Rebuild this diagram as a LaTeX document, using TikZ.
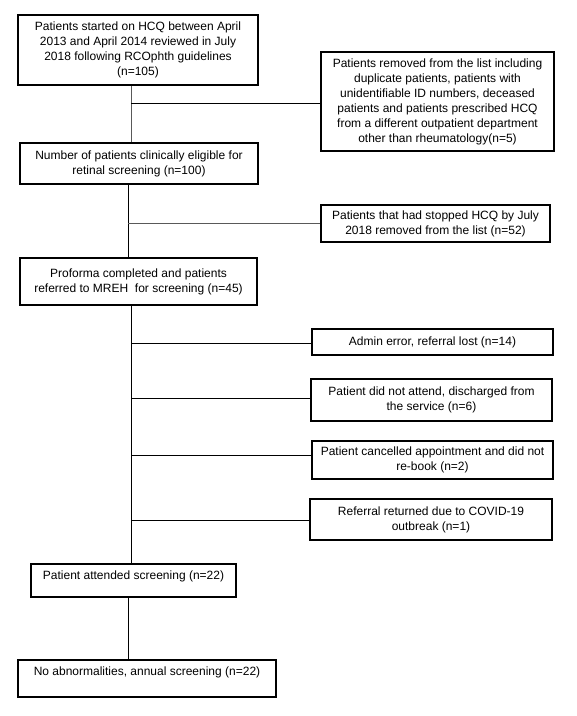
\documentclass[tikz,border=0pt]{standalone}
\usepackage{fontspec}
\setmainfont{Liberation Sans}
\begin{document}
\begin{tikzpicture}[x=1pt,y=-1pt,
  box/.style={draw, line width=2.6pt, align=center, inner sep=0pt,
    font=\fontsize{12}{15}\selectfont},
  conn/.style={draw, line width=0.9pt, black},
  connlight/.style={draw, line width=0.9pt, black!65}]
\useasboundingbox (0,0) rectangle (577,716);
% boxes
\node[box, minimum width=240, minimum height=70] (b1) at (138,50)
  {Patients started on HCQ between April\\2013 and April 2014 reviewed in July\\2018 following RCOphth guidelines\\(n=105)};
\node[box, minimum width=233, minimum height=99] (b2) at (437.5,101.5)
  {Patients removed from the list including\\duplicate patients, patients with\\unidentifiable ID numbers, deceased\\patients and patients prescribed HCQ\\from a different outpatient department\\other than rheumatology(n=5)};
\node[box, minimum width=238, minimum height=41] (b3) at (139,163.5)
  {Number of patients clinically eligible for\\retinal screening (n=100)};
\node[box, minimum width=229, minimum height=37] (b4) at (435.5,223.5)
  {Patients that had stopped HCQ by July\\2018 removed from the list (n=52)};
\node[box, minimum width=237, minimum height=47] (b5) at (138.5,281.5)
  {Proforma completed and patients\\referred to MREH\ \ for screening (n=45)};
\node[box, minimum width=241, minimum height=26] (b6) at (432.5,342)
  {Admin error, referral lost (n=14)};
\node[box, minimum width=241, minimum height=42] (b7) at (431.5,400)
  {Patient did not attend, discharged from\\the service (n=6)};
\node[box, minimum width=241, minimum height=38] (b8) at (432.5,460)
  {Patient cancelled appointment and did not\\re-book (n=2)};
\node[box, minimum width=242, minimum height=41] (b9) at (431,519.5)
  {Referral returned due to COVID-19\\outbreak (n=1)};
\node[box, minimum width=205, minimum height=33, text depth=10pt] (b10) at (133.5,580.5)
  {Patient attended screening (n=22)};
\node[box, minimum width=258, minimum height=37, text depth=15pt] (b11) at (147,678.5)
  {No abnormalities, annual screening (n=22)};
% junction coordinates
\coordinate (j1) at (131,103);
\coordinate (j2) at (128,223);
\coordinate (j3) at (131,343);
\coordinate (j4) at (131,398);
\coordinate (j5) at (131,455);
\coordinate (j6) at (131,520);
\coordinate (j7) at (128,630);
% connectors
\draw[connlight] (j1 |- b1.south) -- (j1 |- b3.north);
\draw[conn] (j1) -- (j1 -| b2.west);
\draw[conn] (j2 |- b3.south) -- (j2 |- b5.north);
\draw[connlight] (j2) -- (j2 -| b4.west);
\draw[conn] (j3 |- b5.south) -- (j3 |- b10.north);
\draw[conn] (j3) -- (j3 -| b6.west);
\draw[conn] (j4) -- (j4 -| b7.west);
\draw[conn] (j5) -- (j5 -| b8.west);
\draw[conn] (j6) -- (j6 -| b9.west);
\draw[conn] (j7 |- b10.south) -- (j7 |- b11.north);
\end{tikzpicture}
\end{document}
